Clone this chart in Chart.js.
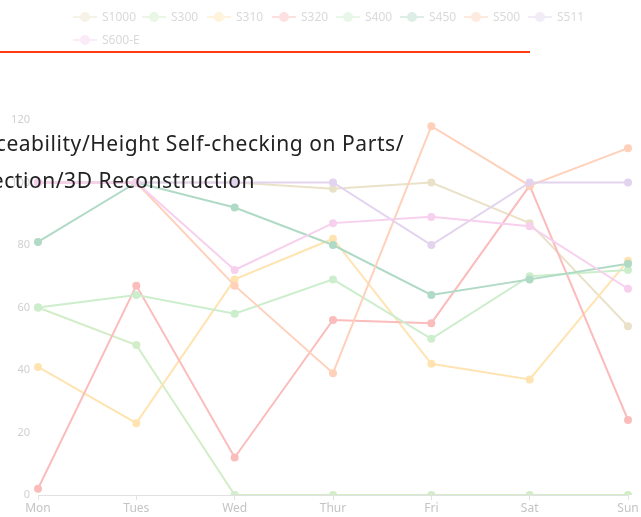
<!DOCTYPE html>
<html>
<head>
    <style>
        body {
            margin: 0;
            overflow: hidden;
            background: #fff;
            font-family: 'Noto Sans', sans-serif;
        }

        #wrap {
            position: relative;
            width: 641px;
            height: 517px;
            overflow: hidden;
        }

        #legend {
            position: absolute;
            top: 8px;
            left: 73px;
            width: 600px;
            opacity: 0.45;
        }

        .leg-item {
            position: absolute;
            height: 18px;
            font-size: 12px;
            color: #aaa;
            white-space: nowrap;
            line-height: 18px;
        }

        .leg-icon {
            display: inline-block;
            position: relative;
            width: 24px;
            height: 18px;
            vertical-align: top;
            margin-right: 5px;
        }

        .leg-icon .ln {
            position: absolute;
            left: 0;
            top: 8px;
            width: 24px;
            height: 2px;
        }

        .leg-icon .dot {
            position: absolute;
            left: 7px;
            top: 4px;
            width: 10px;
            height: 10px;
            border-radius: 50%;
        }

        #redline {
            position: absolute;
            left: 0;
            top: 51px;
            width: 530px;
            height: 2px;
            background: #ff3b12;
        }

        .title-line {
            position: absolute;
            font-size: 21px;
            letter-spacing: 0.55px;
            color: #222;
            white-space: nowrap;
            z-index: 5;
        }
    </style>
    <script src="https://cdn.jsdelivr.net/npm/chart.js"></script>
</head>
<body>
<div id="wrap">
    <canvas id="lineChart" width="641" height="517"></canvas>
    <div id="legend"></div>
    <div id="redline"></div>
    <div class="title-line" style="top:129px; right:237px;">Traceability/Height Self-checking on Parts/</div>
    <div class="title-line" style="top:166px; right:386px;">Inspection/3D Reconstruction</div>
</div>

<script>
    const days = ['Mon', 'Tues', 'Wed', 'Thur', 'Fri', 'Sat', 'Sun'];
    const seriesNames = ['S1000', 'S300', 'S310', 'S320', 'S400', 'S450', 'S500', 'S511', 'S600-E'];
    const yTicks = [0, 20, 40, 60, 80, 100, 120];

    const s1000 = [100, 100, 100, 98, 100, 87, 54];
    const s300 = [60, 48, 0, 0, 0, 0, 0];
    const s310 = [41, 23, 69, 82, 42, 37, 75];
    const s320 = [2, 67, 12, 56, 55, 99, 24];
    const s400 = [60, 64, 58, 69, 50, 70, 72];
    const s450 = [81, 100, 92, 80, 64, 69, 74];
    const s500 = [100, 100, 67, 39, 118, 99, 111];
    const s511 = [100, 100, 100, 100, 80, 100, 100];
    const s600e = [100, 100, 72, 87, 89, 86, 66];

    const allSeries = [s1000, s300, s310, s320, s400, s450, s500, s511, s600e];
    // washed out colours, the whole chart looks dimmed
    const colors = [
        'rgb(234, 226, 200)',
        'rgb(210, 237, 200)',
        'rgb(255, 228, 178)',
        'rgb(251, 188, 188)',
        'rgb(204, 238, 204)',
        'rgb(176, 218, 198)',
        'rgb(255, 208, 186)',
        'rgb(226, 212, 238)',
        'rgb(247, 208, 238)'
    ];

    // legend (html so it can wrap like the original)
    const legendPos = [[0, 0], [69, 0], [134, 0], [199, 0], [263, 0], [327, 0], [391, 0], [455, 0], [0, 23]];
    const legendEl = document.getElementById('legend');
    seriesNames.forEach((name, i) => {
        const item = document.createElement('div');
        item.className = 'leg-item';
        item.style.left = legendPos[i][0] + 'px';
        item.style.top = legendPos[i][1] + 'px';
        item.innerHTML = '<span class="leg-icon"><span class="ln" style="background:' + colors[i] + '"></span>' +
            '<span class="dot" style="background:' + colors[i] + '"></span></span>' + name;
        legendEl.appendChild(item);
    });

    new Chart(document.getElementById('lineChart'), {
        type: 'line',
        data: {
            labels: days,
            datasets: allSeries.map((vals, i) => ({
                label: seriesNames[i],
                data: vals,
                borderColor: colors[i],
                backgroundColor: colors[i],
                borderWidth: 2,
                pointRadius: 3,
                pointHoverRadius: 3,
                tension: 0,
                order: allSeries.length - i
            }))
        },
        options: {
            responsive: false,
            animation: false,
            layout: {
                padding: { top: 120, right: 13, bottom: 0, left: 0 }
            },
            plugins: {
                legend: { display: false },
                tooltip: { enabled: false }
            },
            scales: {
                x: {
                    offset: false,
                    grid: {
                        display: true,
                        drawOnChartArea: false,
                        drawTicks: true,
                        tickLength: 5,
                        color: '#e2e2e2'
                    },
                    border: { color: '#e2e2e2' },
                    ticks: {
                        color: '#c4c4c4',
                        padding: 1,
                        maxRotation: 0,
                        font: { family: 'Noto Sans', size: 12 }
                    },
                    afterFit: s => { s.height = 22; }
                },
                y: {
                    min: 0,
                    max: 120,
                    afterBuildTicks: s => { s.ticks = yTicks.map(v => ({ value: v })); },
                    grid: { display: false },
                    border: { display: false },
                    ticks: {
                        color: '#d0d0d0',
                        padding: 0,
                        font: { family: 'Noto Sans', size: 11 }
                    },
                    afterFit: s => { s.width = 38; }
                }
            }
        }
    });
</script>
</body>
</html>
